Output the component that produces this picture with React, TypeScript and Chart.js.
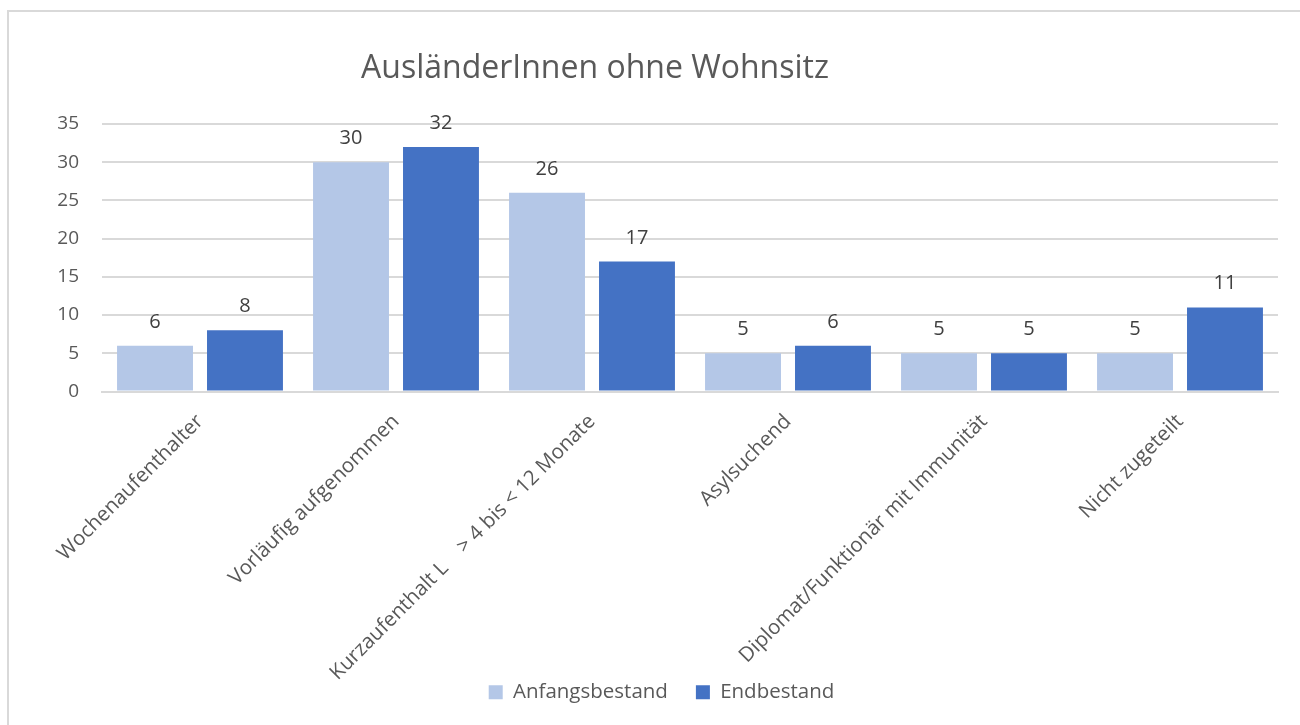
import React, { useEffect, useRef } from "react";
import { Chart, registerables } from "chart.js";

Chart.register(...registerables);

const chartTitle = "AusländerInnen ohne Wohnsitz";
const categories = [
  "Wochenaufenthalter",
  "Vorläufig aufgenommen",
  "Kurzaufenthalt L    > 4 bis < 12 Monate",
  "Asylsuchend",
  "Diplomat/Funktionär mit Immunität",
  "Nicht zugeteilt",
];
const seriesNames = ["Anfangsbestand", "Endbestand"];
const anfangsbestand = [6, 30, 26, 5, 5, 5];
const endbestand = [8, 32, 17, 6, 5, 11];
const yTicks = [0, 5, 10, 15, 20, 25, 30, 35];

const FONT = "'Open Sans', 'Noto Sans', sans-serif";
const TEXT = "#595959";

const titlePlugin = {
  id: "customTitle",
  afterDraw(chart: any) {
    const ctx = chart.ctx;
    ctx.save();
    ctx.font = `32px ${FONT}`;
    ctx.fillStyle = TEXT;
    ctx.textAlign = "center";
    ctx.textBaseline = "alphabetic";
    ctx.fillText(chartTitle, chart.width * (586 / 1291), 66);
    ctx.restore();
  },
};

// Excel-style legend placement: the legend overlaps the bottom of the rotated label area
const legendShiftPlugin = {
  id: "legendShift",
  afterLayout(chart: any) {
    const lg = chart.legend;
    if (!lg) return;
    const h = lg.bottom - lg.top;
    lg.top = chart.height - 71;
    lg.bottom = lg.top + h;
    lg.left += 18;
    lg.right += 18;
  },
};

const dataLabelPlugin = {
  id: "dataLabels",
  afterDatasetsDraw(chart: any) {
    const ctx = chart.ctx;
    ctx.save();
    ctx.font = `20px ${FONT}`;
    ctx.fillStyle = "#404040";
    ctx.textAlign = "center";
    ctx.textBaseline = "alphabetic";
    chart.data.datasets.forEach((ds: any, i: number) => {
      const meta = chart.getDatasetMeta(i);
      meta.data.forEach((el: any, j: number) => {
        ctx.fillText(String(ds.data[j]), el.x, el.y - 18);
      });
    });
    ctx.restore();
  },
};

export default function App() {
  const ref = useRef<HTMLCanvasElement>(null);
  useEffect(() => {
    if (!ref.current) return;
    const chart = new Chart(ref.current, {
      type: "bar",
      data: {
        labels: categories,
        datasets: [
          {
            label: seriesNames[0],
            data: anfangsbestand,
            backgroundColor: "#B4C7E7",
            categoryPercentage: 0.918,
            barPercentage: 0.844,
          },
          {
            label: seriesNames[1],
            data: endbestand,
            backgroundColor: "#4472C4",
            categoryPercentage: 0.918,
            barPercentage: 0.844,
          },
        ],
      },
      options: {
        animation: false,
        responsive: true,
        maintainAspectRatio: false,
        layout: { padding: { top: 112, right: 22, bottom: -25, left: 0 } },
        plugins: {
          title: { display: false },
          tooltip: { enabled: false },
          legend: {
            position: "bottom",
            labels: {
              boxWidth: 14,
              boxHeight: 14,
              padding: 28,
              color: TEXT,
              font: { family: FONT, size: 20.5 },
            },
          },
        },
        scales: {
          x: {
            grid: { display: false, drawTicks: false },
            border: { display: true, color: "#D9D9D9", width: 2 },
            ticks: {
              color: TEXT,
              font: { family: FONT, size: 20.5 },
              maxRotation: 45,
              minRotation: 45,
              padding: 18,
              autoSkip: false,
            },
            afterFit(scale: any) {
              scale.height = 300;
            },
          },
          y: {
            min: 0,
            max: 35,
            afterBuildTicks(scale: any) {
              scale.ticks = yTicks.map((v) => ({ value: v }));
            },
            grid: { color: "#D9D9D9", lineWidth: 2, drawTicks: false },
            border: { display: false },
            ticks: {
              color: TEXT,
              font: { family: FONT, size: 19 },
              padding: 23,
            },
            afterFit(scale: any) {
              scale.width = 93;
            },
          },
        },
      },
      plugins: [titlePlugin, legendShiftPlugin, dataLabelPlugin],
    });
    return () => chart.destroy();
  }, []);

  return (
    <div
      style={{
        position: "fixed",
        left: 0,
        top: 0,
        width: 1300,
        height: 725,
        overflow: "hidden",
        background: "#fff",
      }}
    >
      <div
        style={{
          position: "absolute",
          left: 7,
          top: 10,
          width: 1300,
          height: 730,
          border: "2px solid #D9D9D9",
          boxSizing: "border-box",
        }}
      />
      <div
        style={{
          position: "absolute",
          left: 9,
          top: 12,
          width: 1291,
          height: 713,
        }}
      >
        <canvas ref={ref} />
      </div>
    </div>
  );
}
